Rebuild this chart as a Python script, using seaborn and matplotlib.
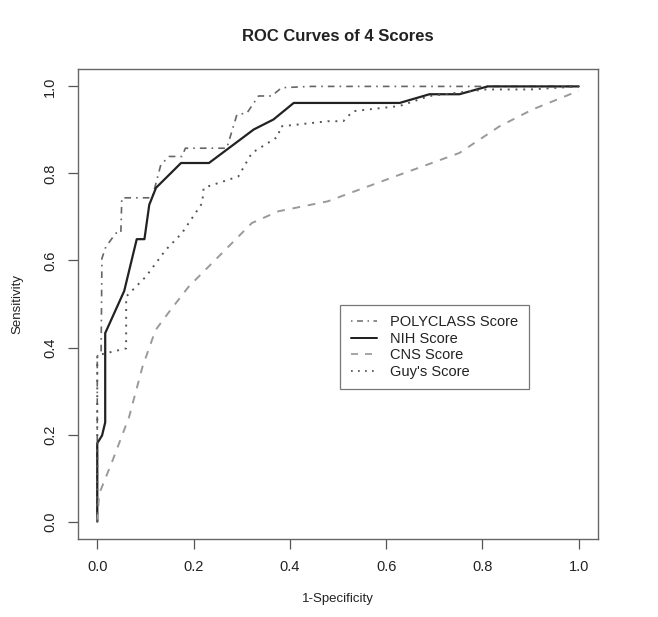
import numpy as np
import pandas as pd
import seaborn as sns
import matplotlib
matplotlib.use('Agg')
import matplotlib.pyplot as plt
from matplotlib.lines import Line2D

# ROC curve points (1-Specificity, Sensitivity)
poly_fpr = [0.0, 0.0, 0.008, 0.0097, 0.018, 0.039, 0.049, 0.051, 0.114, 0.132, 0.149, 0.176,
            0.183, 0.269, 0.290, 0.311, 0.335, 0.362, 0.383, 0.444, 1.0]
poly_tpr = [0.0, 0.38, 0.39, 0.605, 0.632, 0.663, 0.663, 0.744, 0.744, 0.820, 0.839, 0.839,
            0.858, 0.858, 0.935, 0.939, 0.978, 0.978, 0.997, 1.0, 1.0]

nih_fpr = [0.0, 0.0, 0.010, 0.0165, 0.0165, 0.056, 0.082, 0.098, 0.108, 0.122, 0.174, 0.232,
           0.325, 0.366, 0.408, 0.628, 0.690, 0.752, 0.811, 1.0]
nih_tpr = [0.0, 0.18, 0.198, 0.228, 0.433, 0.530, 0.649, 0.649, 0.728, 0.767, 0.824, 0.824,
           0.901, 0.924, 0.962, 0.962, 0.982, 0.982, 1.0, 1.0]

cns_fpr = [0.0, 0.004, 0.032, 0.066, 0.094, 0.121, 0.152, 0.190, 0.252, 0.321, 0.376, 0.479,
           0.525, 0.628, 0.752, 0.835, 0.904, 1.0]
cns_tpr = [0.0, 0.064, 0.141, 0.240, 0.356, 0.440, 0.486, 0.540, 0.609, 0.686, 0.713, 0.736,
           0.755, 0.797, 0.847, 0.908, 0.947, 0.99]

guy_fpr = [0.0, 0.0, 0.060, 0.060, 0.101, 0.142, 0.176, 0.218, 0.221, 0.293, 0.321, 0.376,
           0.380, 0.479, 0.511, 0.531, 0.628, 0.690, 0.807, 0.900, 1.0]
guy_tpr = [0.0, 0.382, 0.398, 0.517, 0.563, 0.624, 0.663, 0.732, 0.767, 0.793, 0.847, 0.885,
           0.908, 0.920, 0.920, 0.943, 0.955, 0.978, 0.993, 0.993, 1.0]

scores = ["POLYCLASS Score", "NIH Score", "CNS Score", "Guy's Score"]
curves = [(poly_fpr, poly_tpr), (nih_fpr, nih_tpr), (cns_fpr, cns_tpr), (guy_fpr, guy_tpr)]

frames = []
for name, (fx, fy) in zip(scores, curves):
    frames.append(pd.DataFrame({'fpr': fx, 'tpr': fy, 'score': name}))
df = pd.concat(frames, ignore_index=True)

sns.set_theme(style="white")
plt.rcParams['font.family'] = ['Liberation Sans', 'DejaVu Sans']

colors = {"POLYCLASS Score": "#666666", "NIH Score": "#222222",
          "CNS Score": "#9a9a9a", "Guy's Score": "#555555"}
# R style line types: dotdash, solid, dashed, dotted
dashes = {"POLYCLASS Score": (1, 3, 4, 3), "NIH Score": "",
          "CNS Score": (4, 4), "Guy's Score": (1, 3)}
widths = {"POLYCLASS Score": 1.2, "NIH Score": 1.6, "CNS Score": 1.4, "Guy's Score": 1.4}

fig = plt.figure(figsize=(6.58, 6.17), dpi=100)
ax = fig.add_axes([78 / 658, 1 - 539 / 617, 520 / 658, 470 / 617])

sns.lineplot(data=df, x='fpr', y='tpr', hue='score', style='score', hue_order=scores,
             style_order=scores, palette=colors, dashes=dashes, sort=False,
             estimator=None, units='score', legend=False, ax=ax)

for line, name in zip(ax.lines, scores):
    line.set_linewidth(widths[name])

ax.set_xlim(-0.04, 1.04)
ax.set_ylim(-0.04, 1.04)
ax.set_xticks(np.arange(0, 1.01, 0.2))
ax.set_yticks(np.arange(0, 1.01, 0.2))
ax.set_xticklabels([f"{v:.1f}" for v in np.arange(0, 1.01, 0.2)])
ax.set_yticklabels([f"{v:.1f}" for v in np.arange(0, 1.01, 0.2)], rotation=90, va='center')
ax.tick_params(axis='both', direction='out', length=7, width=0.9, color='#555555',
               labelsize=10.5, labelcolor='#222222', pad=8, bottom=True, left=True)
for sp in ax.spines.values():
    sp.set_color('#666666')
    sp.set_linewidth(1.0)

ax.set_xlabel("1-Specificity", fontsize=9.5, color='#222222', labelpad=14)
ax.set_ylabel("Sensitivity", fontsize=9.5, color='#222222', labelpad=14)
ax.set_title("ROC Curves of 4 Scores", fontsize=12, fontweight='bold', color='#222222', pad=20)

handles = []
for n in scores:
    h = Line2D([], [], color=colors[n], lw=widths[n] * 0.9)
    if dashes[n]:
        h.set_dashes(dashes[n])
    handles.append(h)
leg = ax.legend(handles, scores, loc='upper left', bbox_to_anchor=(0.504, 0.498),
                frameon=True, fancybox=False, edgecolor='#555555', fontsize=10.5,
                handlelength=1.8, handletextpad=0.9, labelspacing=0.17,
                borderpad=0.72, borderaxespad=0)
leg.get_frame().set_linewidth(0.9)
for t in leg.get_texts():
    t.set_color('#222222')

fig.savefig("out.png", dpi=100)
